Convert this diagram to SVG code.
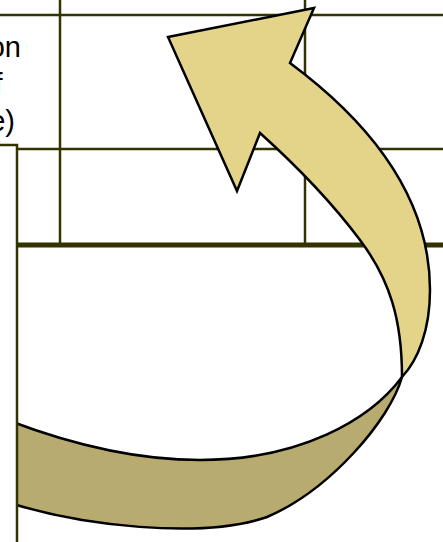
<svg xmlns="http://www.w3.org/2000/svg" width="443" height="542" viewBox="0 0 443 542">
  <style>
    .grid { stroke: #333300; stroke-width: 2.5; fill: none; }
    .thick { stroke: #333300; stroke-width: 5; fill: none; }
    .txt { font-family: "Liberation Sans", Arial, sans-serif; font-size: 29px; fill: #000; text-anchor: end; }
    .arrow { stroke: #000; stroke-width: 2.5; stroke-linejoin: miter; }
  </style>
  <rect width="443" height="542" fill="#fff"/>
  <g id="grid">
    <line class="grid" x1="0" y1="15" x2="443" y2="15"/>
    <line class="grid" x1="60" y1="0" x2="60" y2="245"/>
    <line class="grid" x1="305" y1="0" x2="305" y2="245"/>
    <line class="grid" x1="17" y1="149" x2="443" y2="149"/>
    <line class="thick" x1="17" y1="245" x2="443" y2="245"/>
  </g>
  <g id="label">
    <text class="txt" x="21" y="57">on</text>
    <text class="txt" x="2.5" y="94">f</text>
    <text class="txt" x="15" y="131">e)</text>
  </g>
  <g id="arrow">
    <path class="arrow" fill="#b8ab70" d="M402,377 C390,420 330,490 267,517 C200,540 80,525 10,503 L10,421 C60,440 130,460 200,460 C300,460 370,420 402,377 Z"/>
    <path class="arrow" fill="#e3d48a" d="M168,37 L314,8 L290,63 C360,115 430,190 430,290 C430,330 418,360 402,377 C402,320 390,280 360,240 C330,200 290,160 260,133 L237,191 Z"/>
  </g>
  <g id="box">
    <path d="M-5,145 L17,145 L17,545 L-5,545 Z" fill="#fff" stroke="#333300" stroke-width="2.5"/>
  </g>
</svg>
